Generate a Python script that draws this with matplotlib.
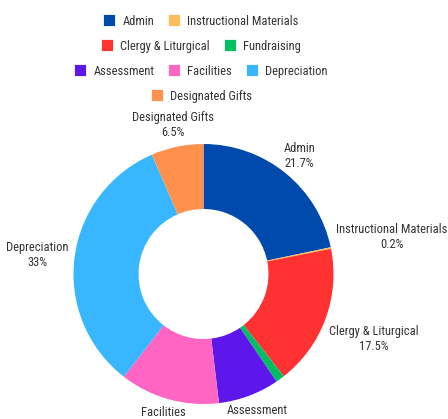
import numpy as np
import matplotlib
matplotlib.use("Agg")
import matplotlib.pyplot as plt
from matplotlib import font_manager
from matplotlib.patches import Rectangle

categories = ["Admin", "Instructional Materials", "Clergy & Liturgical", "Fundraising",
              "Assessment", "Facilities", "Depreciation", "Designated Gifts"]
values = [21.7, 0.2, 17.5, 1.1, 7.6, 12.4, 33, 6.5]
colors = ["#004AAD", "#FFBD59", "#FF3131", "#00BF63", "#5E17EB", "#FF66C4", "#38B6FF", "#FF914D"]

names = {f.name for f in font_manager.fontManager.ttflist}
font = "DejaVu Sans"
for cand in ["Liberation Sans Narrow", "Roboto Condensed", "Open Sans Condensed", "Liberation Sans"]:
    if cand in names:
        font = cand
        break
plt.rcParams["font.family"] = [font, "DejaVu Sans"]

W, H = 448, 419
fig = plt.figure(figsize=(W / 100, H / 100), dpi=100)
ax = fig.add_axes([0, 0, 1, 1])

txt_color = "#333333"
fs = 9
cx, cy_top, R = 203.5, 274, 130
cy = H - cy_top

wedges, _ = ax.pie(values, colors=colors, radius=R, center=(cx, cy), startangle=90,
                   counterclock=False, wedgeprops=dict(width=65, linewidth=0),
                   frame=True)
ax.set_xlim(0, W)
ax.set_ylim(0, H)
ax.set_aspect("equal")
ax.axis("off")

fig.canvas.draw()
renderer = fig.canvas.get_renderer()
inv = ax.transData.inverted()

# data labels (placed largest first; labels that would collide are hidden)
total = sum(values)
mids = np.cumsum(values) - np.array(values) / 2
Rl = 152
pad = 5
# vertical spreading of side labels (in pixels, screen-down positive)
spread = {"Instructional Materials": -7, "Clergy & Liturgical": 12, "Assessment": 2}
placed = []
for idx in sorted(range(len(values)), key=lambda i: -values[i]):
    cat, v = categories[idx], values[idx]
    th = np.deg2rad(mids[idx] / total * 360)
    x = cx + Rl * np.sin(th)
    y = cy + Rl * np.cos(th) - spread.get(cat, 0)
    t = ax.text(x, y, f"{cat}\n{v:g}%", ha="center", va="center", ma="center",
                fontsize=fs, color=txt_color, linespacing=1.2, clip_on=False)
    bb = t.get_window_extent(renderer)
    (x0, y0), (x1, y1) = inv.transform([[bb.x0, bb.y0], [bb.x1, bb.y1]])
    dy = 0 if y0 <= cy <= y1 else min(abs(y0 - cy), abs(y1 - cy))
    if dy < R + pad and abs(np.sin(th)) > 0.8:
        edge = np.sqrt((R + pad) ** 2 - dy ** 2)
        if np.sin(th) > 0 and x0 < cx + edge:
            t.set_x(x + (cx + edge - x0))
        elif np.sin(th) < 0 and x1 > cx - edge:
            t.set_x(x - (x1 - (cx - edge)))
    bb = t.get_window_extent(renderer)
    if any(bb.overlaps(p) for p in placed):
        t.remove()
        continue
    placed.append(bb)

# legend
sq = 12
gap_sym = 7
gap_item = 14
max_w = 265
row_y0 = 20
row_h = 25
leg_cx = 201

widths = []
for cat in categories:
    t = ax.text(0, 0, cat, fontsize=fs)
    widths.append(t.get_window_extent(renderer).width)
    t.remove()

rows, cur, cur_w = [], [], 0
for i, w in enumerate(widths):
    iw = sq + gap_sym + w
    add = iw if not cur else gap_item + iw
    if cur and cur_w + add > max_w:
        rows.append((cur, cur_w))
        cur, cur_w = [i], iw
    else:
        cur.append(i)
        cur_w += add
rows.append((cur, cur_w))

for r, (items, rw) in enumerate(rows):
    yc = H - (row_y0 + r * row_h)
    x = leg_cx - rw / 2
    for i in items:
        ax.add_patch(Rectangle((x, yc - sq / 2), sq, sq, facecolor=colors[i],
                               edgecolor="white", linewidth=0.6, clip_on=False))
        ax.text(x + sq + gap_sym, yc, categories[i], fontsize=fs, color=txt_color,
                ha="left", va="center_baseline")
        x += sq + gap_sym + widths[i] + gap_item

fig.savefig("out.png", dpi=100, facecolor="white")
